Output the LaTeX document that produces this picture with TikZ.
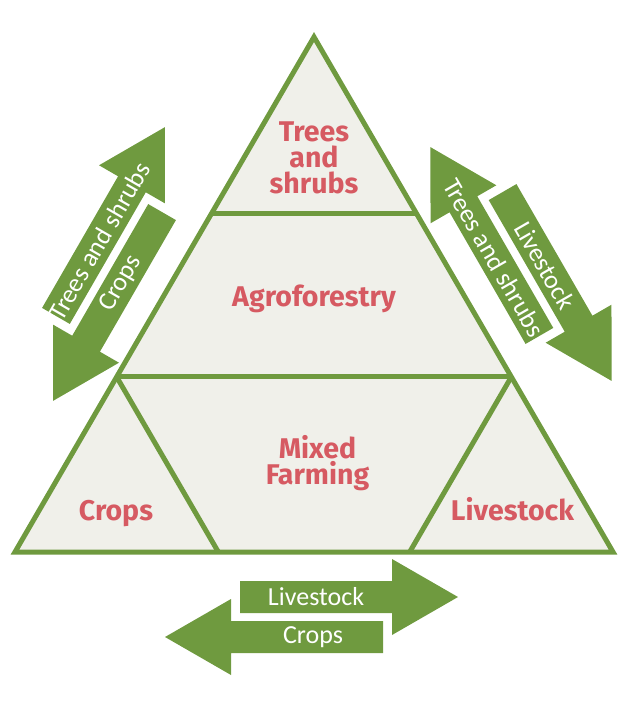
\documentclass[tikz,border=0pt]{standalone}
\usepackage{fontspec}
\setmainfont{Fira Sans}
\newfontfamily\arrowfont{Carlito}
\usetikzlibrary{calc}
\definecolor{leaf}{HTML}{6F9A3F}
\definecolor{paper}{HTML}{F0F0EA}
\definecolor{rose}{HTML}{D65A62}
\begin{document}
\begin{tikzpicture}[x=1pt,y=-1pt,
  part/.style={draw=leaf, line width=5pt, line join=miter},
  lbl/.style={text=rose, font=\fontsize{28.5}{26}\selectfont\bfseries, align=center, inner sep=0pt},
  arrowtxt/.style={text=white, font=\arrowfont\fontsize{26}{26}\selectfont, inner sep=0pt},
  arrowshape/.style={fill=leaf}]
\useasboundingbox (0,0) rectangle (635,718);
% main triangle
\coordinate (apex) at (314,37);
\coordinate (bl) at (15,552);
\coordinate (br) at (613,552);
\coordinate (t1l) at ($(bl)!0.658!(apex)$);
\coordinate (t1r) at ($(br)!0.658!(apex)$);
\coordinate (t2l) at ($(bl)!0.34!(apex)$);
\coordinate (t2r) at ($(br)!0.34!(apex)$);
\coordinate (b1) at ($(bl)!0.34!(br)$);
\coordinate (b2) at ($(br)!0.34!(bl)$);
\fill[paper] (apex) -- (bl) -- (br) -- cycle;
\draw[part] (t1l) -- (t1r);
\draw[part] (t2l) -- (t2r);
\draw[part] (t2l) -- (b1);
\draw[part] (t2r) -- (b2);
\draw[part] (apex) -- (bl) -- (br) -- cycle;
% labels
\node[lbl] (ts) at (314,158) {Trees\\and\\shrubs};
\node[lbl, anchor=base] (agro) at (314,306) {Agroforestry};
\node[lbl] (mf) at (317.5,463) {Mixed\\Farming};
\node[lbl, anchor=base] (crops) at (116,520) {Crops};
\node[lbl, anchor=base] (live) at (512.5,520) {Livestock};
% left arrow pair
\begin{scope}[shift={(109,264)}, rotate=-120]
  \fill[arrowshape] (-71.5,-36) -- (80.5,-36) -- (80.5,-58) -- (146.5,-20) -- (80.5,18) -- (80.5,-4) -- (-71.5,-4) -- cycle;
  \fill[arrowshape] (71.5,4) -- (-80.5,4) -- (-80.5,-18) -- (-146.5,20) -- (-80.5,58) -- (-80.5,36) -- (71.5,36) -- cycle;
  \node[arrowtxt, rotate=60] (lcrops) at (11,-20) {Crops};
  \node[arrowtxt, rotate=60] (ltrees) at (-15,20) {Trees and shrubs};
\end{scope}
% right arrow pair
\begin{scope}[shift={(521,264)}, rotate=120]
  \fill[arrowshape] (-71.5,-36) -- (80.5,-36) -- (80.5,-58) -- (146.5,-20) -- (80.5,18) -- (80.5,-4) -- (-71.5,-4) -- cycle;
  \fill[arrowshape] (71.5,4) -- (-80.5,4) -- (-80.5,-18) -- (-146.5,20) -- (-80.5,58) -- (-80.5,36) -- (71.5,36) -- cycle;
  \node[arrowtxt, rotate=-60] (rtrees) at (19,-20) {Trees and shrubs};
  \node[arrowtxt, rotate=-60] (rlive) at (-13,20) {Livestock};
\end{scope}
% bottom arrow pair
\begin{scope}[shift={(311.5,617)}]
  \fill[arrowshape] (-71.5,-36) -- (80.5,-36) -- (80.5,-58) -- (146.5,-20) -- (80.5,18) -- (80.5,-4) -- (-71.5,-4) -- cycle;
  \fill[arrowshape] (71.5,4) -- (-80.5,4) -- (-80.5,-18) -- (-146.5,20) -- (-80.5,58) -- (-80.5,36) -- (71.5,36) -- cycle;
  \node[arrowtxt] (blive) at (4.5,-20) {Livestock};
  \node[arrowtxt] (bcrops) at (1.5,20) {Crops};
\end{scope}
\end{tikzpicture}
\end{document}
